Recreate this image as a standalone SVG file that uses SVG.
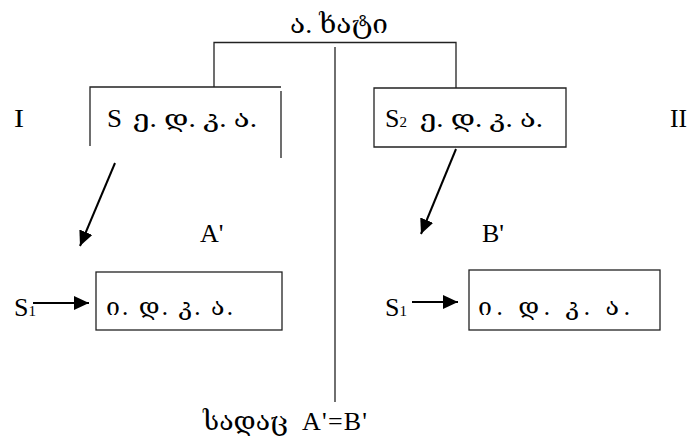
<svg xmlns="http://www.w3.org/2000/svg" width="693" height="444" viewBox="0 0 693 444">
<style>
.ln{stroke:#222;stroke-width:1.3;fill:none}
.ar{stroke:#000;stroke-width:2;fill:none}
.t{font-family:"Liberation Serif","DejaVu Serif","DejaVu Sans",serif;fill:#000}
.big{font-size:26px}
.mid{font-size:26px}
.geo{font-size:26px}
.geo2{font-size:25px}
.sub{font-size:15px}
</style>
<defs>
<marker id="ah" markerUnits="userSpaceOnUse" markerWidth="16" markerHeight="14" refX="15" refY="7" orient="auto">
<path d="M0,0 L15,7 L0,14 Z" fill="#000"/>
</marker>
</defs>
<rect width="693" height="444" fill="#fff"/>
<g id="connectors">
<path class="ln" d="M214,87 V42.5 H456 V88"/>
<path class="ln" d="M335,47 V402"/>
<path class="ar" d="M115,163 L80,246" marker-end="url(#ah)"/>
<path class="ar" d="M456,149 L421,234" marker-end="url(#ah)"/>
<path class="ar" d="M33,303 L89,303" marker-end="url(#ah)"/>
<path class="ar" d="M412,302 L458,302" marker-end="url(#ah)"/>
</g>
<g id="title">
<text class="t geo" x="290" y="33" textLength="98" lengthAdjust="spacingAndGlyphs">ა. ხატი</text>
</g>
<g id="label-I"><text class="t big" x="14" y="127" textLength="10" lengthAdjust="spacingAndGlyphs">I</text></g>
<g id="label-II"><text class="t big" x="670" y="127" textLength="17" lengthAdjust="spacingAndGlyphs">II</text></g>
<g id="box-left">
<path class="ln" d="M90,146 V87 H281 M281,91 V158"/>
<text class="t big" x="107" y="127" textLength="15" lengthAdjust="spacingAndGlyphs">S</text>
<text class="t geo2" x="133" y="127" textLength="124" lengthAdjust="spacingAndGlyphs">ე. დ. კ. ა.</text>
</g>
<g id="box-right">
<path class="ln" d="M374,88 H566 V147 H374 Z"/>
<text class="t big" x="385" y="127">S<tspan class="sub">2</tspan></text>
<text class="t geo2" x="420" y="127" textLength="123" lengthAdjust="spacingAndGlyphs">ე. დ. კ. ა.</text>
</g>
<g id="label-A"><text class="t mid" x="200" y="242">A'</text></g>
<g id="label-B"><text class="t mid" x="482" y="242">B'</text></g>
<g id="box-left-bottom">
<text class="t mid" x="14" y="316">S<tspan class="sub">1</tspan></text>
<rect class="ln" x="96" y="272" width="186" height="58"/>
<text class="t geo2" x="106" y="315" textLength="127" lengthAdjust="spacing">ი.  დ.  კ.  ა.</text>
</g>
<g id="box-right-bottom">
<text class="t mid" x="385" y="316">S<tspan class="sub">1</tspan></text>
<rect class="ln" x="469" y="270" width="191" height="60"/>
<text class="t geo2" x="478" y="315" textLength="152" lengthAdjust="spacing">ი.  დ.  კ.  ა.</text>
</g>
<g id="footer">
<text class="t geo" x="203" y="430" textLength="85" lengthAdjust="spacingAndGlyphs">სადაც</text>
<text class="t mid" x="302" y="430" textLength="65" lengthAdjust="spacing">A'=B'</text>
</g>
</svg>
